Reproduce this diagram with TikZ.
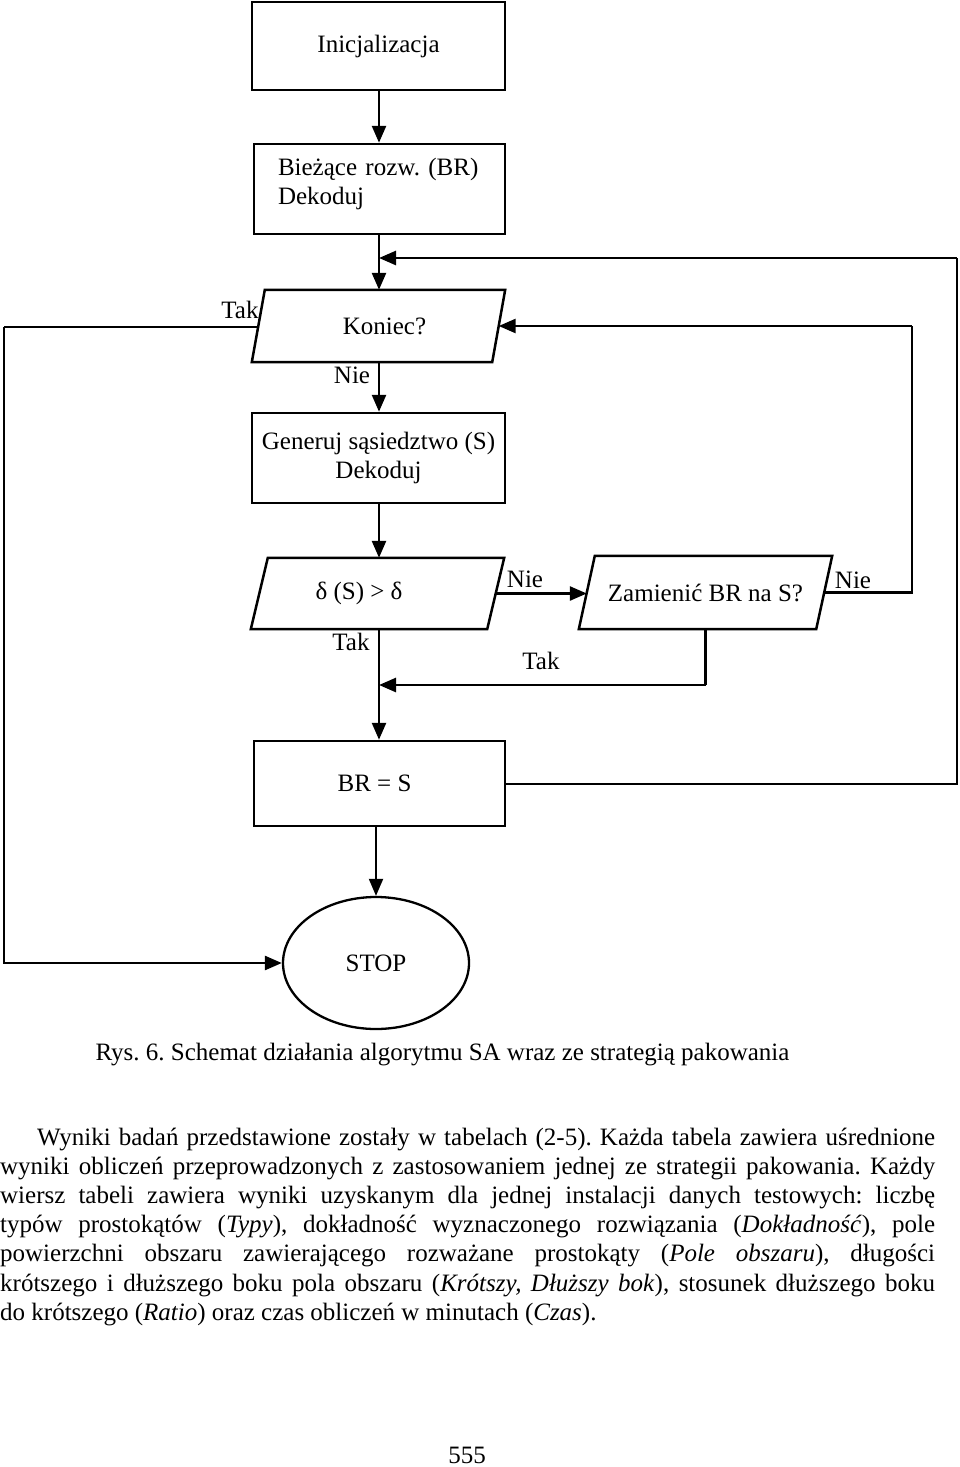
\documentclass[tikz,border=0pt]{standalone}
\usepackage{fontspec}
\setmainfont{Liberation Serif}
\usetikzlibrary{arrows.meta,shapes.geometric}
\frenchspacing
\tikzset{
  fs/.style={font=\fontsize{25}{29.2}\selectfont\frenchspacing},
  box/.style={draw, line width=2.5pt, fs, inner sep=0pt, align=center},
  pbody/.style={fs, inner sep=0pt},
  pshape/.style={line width=2.5pt, line join=miter},
  arr/.style={line width=2.6pt, -{Triangle[length=17pt,width=14pt]}},
  thinln/.style={line width=1.8pt},
  midln/.style={line width=2pt},
  thickln/.style={line width=2.6pt},
  lbl/.style={fs, inner sep=0pt},
  txt/.style={fs, inner sep=0pt, anchor=base west},
}
\begin{document}
\begin{tikzpicture}[x=1pt,y=-1pt]
\useasboundingbox (0,0) rectangle (960,1467);
\fill[white] (0,0) rectangle (960,1467);

% main x reference coordinates
\coordinate (mx) at (379,0);
\coordinate (sx) at (376,0);

% boxes
\node[box, minimum width=253pt, minimum height=88pt] (init) at (378.5,46) {Inicjalizacja};
\node[box, minimum width=251pt, minimum height=90pt, text width=251pt, align=left] (br) at (379.5,189)
  {\hspace*{24pt}Bieżące rozw. (BR)\\\hspace*{24pt}Dekoduj\rule[-15pt]{0pt}{15pt}};

% Koniec parallelogram
\node[pbody, minimum width=240pt, minimum height=72pt] (kon) at (378.5,326) {Koniec?\hspace*{-12pt}};
\draw[pshape] ([xshift=6.5pt]kon.north west) -- ([xshift=6.5pt]kon.north east)
   -- ([xshift=-6.5pt]kon.south east) -- ([xshift=-6.5pt]kon.south west) -- cycle;

\node[box, minimum width=253pt, minimum height=90pt] (gen) at (378.5,458) {Generuj sąsiedztwo (S)\\Dekoduj};

% delta parallelogram
\node[pbody, minimum width=236pt, minimum height=71pt] (del) at (377.5,593.5) {\hspace*{-37pt}δ (S) > δ};
\draw[pshape] ([xshift=8.5pt]del.north west) -- ([xshift=8.5pt]del.north east)
   -- ([xshift=-8.5pt]del.south east) -- ([xshift=-8.5pt]del.south west) -- cycle;

% Zamienic parallelogram
\node[pbody, minimum width=237pt, minimum height=73pt] (zam) at (705.5,592.5) {Zamienić BR na S?};
\draw[pshape] ([xshift=8pt]zam.north west) -- ([xshift=8pt]zam.north east)
   -- ([xshift=-8pt]zam.south east) -- ([xshift=-8pt]zam.south west) -- cycle;

\node[box, minimum width=251pt, minimum height=85pt] (brs) at (379.5,783.5) {\hspace*{-10pt}BR = S};

\node[draw, ellipse, line width=2.3pt, fs, inner sep=0pt, minimum width=186pt, minimum height=132pt] (stop) at (376,963) {STOP};

% coordinates for connectors
\coordinate (j) at (379,258);
\coordinate (rt) at (957,258);
\coordinate (rb) at (957,783.5);
\coordinate (lt) at (4,327);
\coordinate (lb) at (4,963);
\coordinate (zr) at (912,592.5);
\coordinate (zk) at (912,326);
\coordinate (zt) at (705.5,685);
\coordinate (jt) at (379,685);

% connectors
\draw[arr] (init.south -| mx) -- (br.north -| mx);
\draw[arr] (br.south -| mx) -- (kon.north -| mx);
\draw[midln] (brs.east) -- (rb) -- (rt);
\draw[arr] (rt) -- (j);
\draw[thinln] ([yshift=-1pt]kon.west) -- (lt);
\draw[thickln, line join=miter] (lt) -- (lb) -- ([xshift=-17pt]stop.west);
\draw[arr] ([xshift=-18pt]stop.west) -- (stop.west);
\draw[arr] (kon.south -| mx) -- (gen.north -| mx);
\draw[arr] (gen.south -| mx) -- (del.north -| mx);
\draw[arr] (del.east) -- (del.east -| zam.west);
\draw[thickln, line join=miter] (zam.east) -- (zr) -- (zk);
\draw[arr] (zk) -- (kon.east);
\draw[thickln, line join=miter] (zam.south) -- (zt);
\draw[arr] (zt) -- (jt);
\draw[arr] (del.south -| mx) -- (brs.north -| mx);
\draw[arr, line width=2pt] (brs.south -| sx) -- (stop.north);

% labels
\node[lbl] (tak1) at (240,310) {Tak};
\node[lbl] (nie1) at (352,375) {Nie};
\node[lbl] (nie2) at (525,579) {Nie};
\node[lbl] (nie3) at (853,580) {Nie};
\node[lbl] (tak2) at (351,642) {Tak};
\node[lbl] (tak3) at (541,661) {Tak};

% caption
\node[fs, inner sep=0pt, anchor=base] (cap) at (442.5,1060) {Rys. 6. Schemat działania algorytmu SA wraz ze strategią pakowania};

% paragraph
\node[txt] (p1) at (37,1145) {\makebox[898pt][s]{Wyniki badań przedstawione zostały w tabelach (2-5). Każda tabela zawiera uśrednione}};
\node[txt] (p2) at (0,1174.2) {\makebox[935pt][s]{wyniki obliczeń przeprowadzonych z zastosowaniem jednej ze strategii pakowania. Każdy}};
\node[txt] (p3) at (0,1203.4) {\makebox[935pt][s]{wiersz tabeli zawiera wyniki uzyskanym dla jednej instalacji danych testowych: liczbę}};
\node[txt] (p4) at (0,1232.6) {\makebox[935pt][s]{typów prostokątów (\textit{Typy}), dokładność wyznaczonego rozwiązania (\textit{Dokładność}), pole}};
\node[txt] (p5) at (0,1261.8) {\makebox[935pt][s]{powierzchni obszaru zawierającego rozważane prostokąty (\textit{Pole obszaru}), długości}};
\node[txt] (p6) at (0,1291) {\makebox[935pt][s]{krótszego i dłuższego boku pola obszaru (\textit{Krótszy, Dłuższy bok}), stosunek dłuższego boku}};
\node[txt] (p7) at (0,1320.2) {do krótszego (\textit{Ratio}) oraz czas obliczeń w minutach (\textit{Czas}).};

% page number
\node[fs, inner sep=0pt, anchor=base] (pg) at (467,1463) {555};
\end{tikzpicture}
\end{document}
